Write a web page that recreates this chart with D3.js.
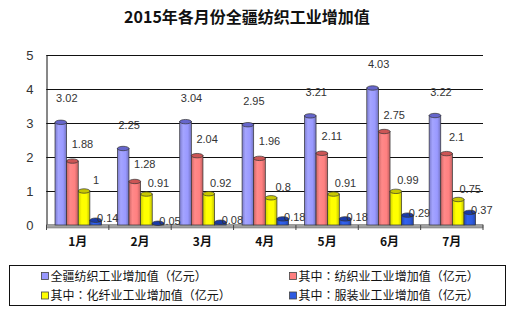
<!DOCTYPE html>
<html><head><meta charset="utf-8">
<script src="https://cdn.jsdelivr.net/npm/d3@7"></script>
<style>
html,body{margin:0;padding:0;background:#fff;}
svg{display:block;}
</style></head>
<body>
<svg id="chart" width="515" height="326"></svg>
<script>
const months = ["1月","2月","3月","4月","5月","6月","7月"];
const seriesNames = ["全疆纺织工业增加值（亿元）","其中：纺织业工业增加值（亿元）","其中：化纤业工业增加值（亿元）","其中：服装业工业增加值（亿元）"];
const totalValues = [3.02,2.25,3.04,2.95,3.21,4.03,3.22];
const textileValues = [1.88,1.28,2.04,1.96,2.11,2.75,2.1];
const fiberValues = [1,0.91,0.92,0.8,0.91,0.99,0.75];
const apparelValues = [0.14,0.05,0.08,0.18,0.18,0.29,0.37];
const yTicks = [0,1,2,3,4,5];
const titleText = "2015年各月份全疆纺织工业增加值";

(function(){
const seriesData = [totalValues, textileValues, fiberValues, apparelValues];
const colors = ["#9999FF","#FF8080","#FFFF00","#2E5BE0"];
const darkColors = ["#6666CC","#CC5555","#C8C800","#1A3AA8"];

const svg = d3.select("#chart");
const font = "'Liberation Sans', Arial, 'Noto Sans CJK SC', sans-serif";
const cjk = "'Noto Sans CJK SC', 'Liberation Sans', sans-serif";
const cjkPunct = "'Noto Sans CJK TC', 'Noto Sans CJK SC', sans-serif";

const pLeft = 46.5, pRight = 483, pTop = 55, pBottom = 225;
const x = d3.scaleBand().domain(months).range([pLeft, pRight]).paddingInner(0).paddingOuter(0);
const y = d3.scaleLinear().domain([0,5]).range([pBottom, pTop]);

// title
svg.append("text").attr("x", 247).attr("y", 23).attr("text-anchor","middle")
  .attr("font-family", cjk).attr("font-weight","bold").attr("font-size",16).attr("fill","#111")
  .text(titleText);

// gridlines
svg.append("g").selectAll("line").data(yTicks.filter(d=>d>0)).join("line")
  .attr("x1", pLeft).attr("x2", pRight)
  .attr("y1", d=>Math.round(y(d))+0.5).attr("y2", d=>Math.round(y(d))+0.5)
  .attr("stroke","#111").attr("stroke-width",1);

// y axis
const yAxis = d3.axisLeft(y).tickValues(yTicks).tickSize(-6).tickPadding(13).tickFormat(d3.format("d"));
const gy = svg.append("g").attr("transform", `translate(${pLeft},0)`).call(yAxis);
gy.select(".domain").attr("stroke","#111");
gy.selectAll(".tick line").attr("stroke","#111");
gy.selectAll(".tick text").attr("font-family", font).attr("font-size",13).attr("fill","#333");

// floor
svg.append("rect").attr("x", pLeft).attr("y", pBottom-0.5).attr("width", pRight-pLeft).attr("height", 3.5)
  .attr("fill","#A0A0A0").attr("stroke","#666").attr("stroke-width",0.5);
svg.append("g").selectAll("line").data(months.concat(["end"])).join("line")
  .attr("x1",(d,i)=>pLeft + i*x.bandwidth()).attr("x2",(d,i)=>pLeft + i*x.bandwidth())
  .attr("y1", pBottom).attr("y2", pBottom+5).attr("stroke","#444");

// x labels
svg.append("g").selectAll("text").data(months).join("text")
  .attr("x", d=>x(d)+x.bandwidth()/2).attr("y", 246).attr("text-anchor","middle")
  .attr("font-family", cjk).attr("font-weight","bold").attr("font-size",12).attr("fill","#111")
  .text(d=>d);

// gradients
const defs = svg.append("defs");
colors.forEach((c,i)=>{
  const g = defs.append("linearGradient").attr("id","g"+i).attr("x1","0").attr("x2","1").attr("y1","0").attr("y2","0");
  g.append("stop").attr("offset","0%").attr("stop-color", d3.color(c).darker(0.6));
  g.append("stop").attr("offset","30%").attr("stop-color", d3.color(c).brighter(0.2));
  g.append("stop").attr("offset","70%").attr("stop-color", c);
  g.append("stop").attr("offset","100%").attr("stop-color", d3.color(c).darker(0.8));
});

const inner = d3.scaleBand().domain(d3.range(4)).range([8.5, 55]).padding(0);
const bw = inner.bandwidth();
const labelDx = [6, 10, 12, 12];
const labelDy = [-20, -13, -7, 2];

seriesData.forEach((vals, si)=>{
  const g = svg.append("g");
  months.forEach((m, mi)=>{
    const v = vals[mi];
    const x0 = x(m) + inner(si);
    const yt = y(v);
    g.append("rect").attr("x", x0).attr("y", yt).attr("width", bw).attr("height", pBottom - yt)
      .attr("fill", `url(#g${si})`).attr("stroke", "#333").attr("stroke-width", 0.7);
    g.append("ellipse").attr("cx", x0 + bw/2).attr("cy", yt).attr("rx", bw/2).attr("ry", 2.2)
      .attr("fill", darkColors[si]).attr("stroke","#333").attr("stroke-width",0.7);
  });
});

// labels
seriesData.forEach((vals, si)=>{
  svg.append("g").selectAll("text").data(vals).join("text")
    .attr("x", (v,i)=> x(months[i]) + inner(si) + bw/2 + labelDx[si])
    .attr("y", v=> y(v) + labelDy[si])
    .attr("text-anchor","middle").attr("font-family", font).attr("font-size",11).attr("fill","#333")
    .text(v=>String(v));
});

// legend
svg.append("rect").attr("x",9.5).attr("y",265.5).attr("width",496).attr("height",40)
  .attr("fill","#fff").attr("stroke","#111").attr("stroke-width",1);
const legPos = [[41,276],[289,276],[41,295.5],[289,295.5]];
const fs = 12;
seriesNames.forEach((n,i)=>{
  const [lx,ly] = legPos[i];
  svg.append("rect").attr("x",lx+0.5).attr("y",ly-3.5).attr("width",7).attr("height",7)
    .attr("fill",colors[i]).attr("stroke","#444").attr("stroke-width",0.8);
  const t = svg.append("text").attr("x",lx+9.5).attr("y",ly+4.5).attr("font-family",cjk).attr("font-size",fs)
    .attr("fill","#111");
  // each character its own tspan; punctuation centred in a full-width cell
  const chars = Array.from(n);
  let pending = 0;
  chars.forEach(ch=>{
    const ts = t.append("tspan").text(ch);
    if (/[：（）]/.test(ch)) ts.attr("font-family", cjkPunct);
    const w = ts.node().getComputedTextLength();
    const pad = /[：（）]/.test(ch) && w < fs*0.95 ? (fs - w)/2 : 0;
    if (pending + pad) ts.attr("dx", pending + pad);
    pending = pad;
  });
});
})();
</script>
</body></html>
